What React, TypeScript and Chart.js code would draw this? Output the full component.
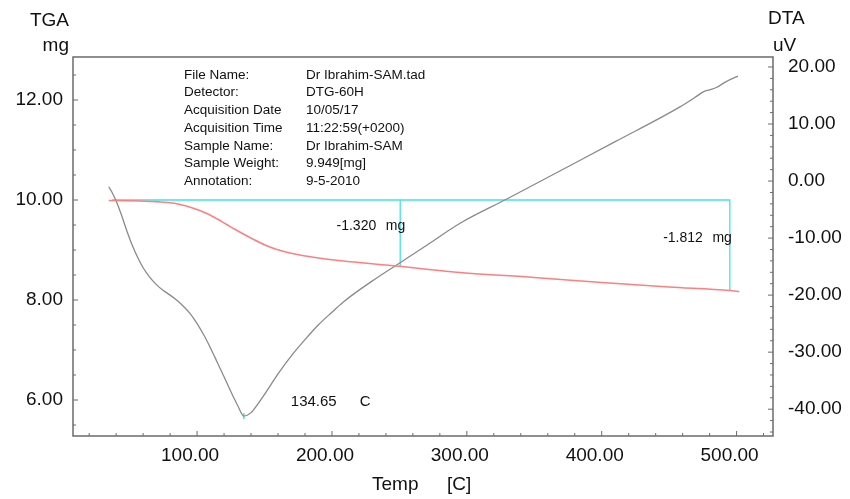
import React, { useEffect, useRef } from 'react';
import { Chart, registerables } from 'chart.js';

Chart.register(...registerables);

// ---- data ----
const tgaTemp = [34.5, 50, 65, 75, 85, 92, 100, 108, 115, 122, 128, 135, 142, 150, 158, 168, 178, 190, 200, 220, 250, 270, 295, 350, 400, 450, 495, 502];
const tgaMass = [9.99, 9.985, 9.97, 9.955, 9.925, 9.88, 9.81, 9.72, 9.62, 9.51, 9.415, 9.31, 9.21, 9.105, 9.02, 8.945, 8.89, 8.84, 8.805, 8.75, 8.675, 8.615, 8.55, 8.45, 8.35, 8.26, 8.19, 8.17];

const dtaTemp = [34.5, 37, 40, 44, 48, 52, 56, 60, 65, 70, 75, 80, 85, 90, 95, 100, 105, 110, 115, 120, 125, 130, 134.65, 140, 145, 150, 155, 160, 170, 180, 190, 200, 208, 215, 230, 250, 270, 295, 330, 370, 410, 458, 470, 475, 480, 485, 492, 501];
const dtaSignal = [-1.0, -2.0, -3.5, -6.0, -8.8, -11.3, -13.4, -15.2, -16.9, -18.2, -19.2, -20.0, -20.9, -22.0, -23.3, -25.0, -27.0, -29.3, -31.8, -34.3, -36.9, -39.3, -41.2, -40.6, -39.1, -37.4, -35.6, -33.8, -30.6, -27.8, -25.2, -23.0, -21.3, -20.0, -17.5, -14.4, -11.3, -7.4, -3.1, 1.9, 6.9, 13.0, 14.8, 15.6, 16.0, 16.4, 17.4, 18.4];

const baselineMass = 10.0;
const baselineStart = 37;
const stepTemps = [250.6, 495];
const stepMass = [8.68, 8.188];
const stepLabels = ['-1.320', '-1.812'];
const peakTemp = 134.65;
const peakSignal = -41.2;

const xTicks = [100, 200, 300, 400, 500];
const tgaTicks = [6, 8, 10, 12];
const dtaTicks = [-40, -30, -20, -10, 0, 10, 20];

const infoLabels = ['File Name:', 'Detector:', 'Acquisition Date', 'Acquisition Time', 'Sample Name:', 'Sample Weight:', 'Annotation:'];
const infoValues = ['Dr Ibrahim-SAM.tad', 'DTG-60H', '10/05/17', '11:22:59(+0200)', 'Dr Ibrahim-SAM', '9.949[mg]', '9-5-2010'];

const FONT = '"Liberation Sans", Arial, Helvetica, sans-serif';
const CYAN = '#3fe3ee';
const RED = '#ff7f80';
const GRAY = '#8a8a8a';
const FRAME = '#6b6b6b';

const decorPlugin = {
  id: 'decor',
  afterDraw(chart: any) {
    const ctx = chart.ctx;
    const { left, right, top, bottom } = chart.chartArea;
    const xs = chart.scales.x;
    const ys = chart.scales.y;
    const y2 = chart.scales.y2;
    ctx.save();
    // frame
    ctx.strokeStyle = FRAME;
    ctx.lineWidth = 1.5;
    ctx.strokeRect(left, top, right - left, bottom - top);
    // ticks
    ctx.lineWidth = 1;
    ctx.beginPath();
    for (let v = 20; v <= 520; v += 20) {
      const px = xs.getPixelForValue(v);
      const len = v % 100 === 0 ? 5 : 3;
      ctx.moveTo(px, bottom);
      ctx.lineTo(px, bottom - len);
    }
    for (let v = 5.5; v <= 12.5; v += 0.5) {
      const py = ys.getPixelForValue(v);
      const len = Math.abs(v % 2) < 1e-6 ? 5 : 3;
      ctx.moveTo(left, py);
      ctx.lineTo(left + len, py);
    }
    for (let v = -44; v <= 20; v += 2) {
      const py = y2.getPixelForValue(v);
      const len = v % 10 === 0 ? 5 : 3;
      ctx.moveTo(right, py);
      ctx.lineTo(right - len, py);
    }
    ctx.stroke();

    ctx.fillStyle = '#111';
    ctx.textBaseline = 'middle';
    // axis titles
    ctx.font = `19px ${FONT}`;
    ctx.textAlign = 'right';
    ctx.fillText('TGA', 69, 21);
    ctx.fillText('mg', 69, 46);
    ctx.textAlign = 'left';
    ctx.fillText('DTA', 768, 19);
    ctx.fillText('uV', 773, 46);
    ctx.fillText('Temp', 372, 485);
    ctx.fillText('[C]', 447, 485);

    // info block
    ctx.font = `13.5px ${FONT}`;
    infoLabels.forEach((l, i) => {
      const y = 75 + i * 17.7;
      ctx.fillText(l, 184, y);
      ctx.fillText(infoValues[i], 306, y);
    });

    // step annotations
    ctx.font = `14px ${FONT}`;
    const s1 = xs.getPixelForValue(stepTemps[0]);
    const s2 = xs.getPixelForValue(stepTemps[1]);
    ctx.textAlign = 'right';
    ctx.fillText(stepLabels[0], s1 - 24, ys.getPixelForValue(9.48));
    ctx.fillText('mg', s1 + 5, ys.getPixelForValue(9.48));
    ctx.fillText(stepLabels[1], s2 - 27, ys.getPixelForValue(9.24));
    ctx.fillText('mg', s2 + 2, ys.getPixelForValue(9.24));

    // peak annotation
    ctx.font = `15px ${FONT}`;
    ctx.textAlign = 'left';
    const pk = xs.getPixelForValue(peakTemp);
    const py = y2.getPixelForValue(-38.7);
    ctx.fillText(peakTemp.toFixed(2), pk + 47, py);
    ctx.fillText('C', pk + 116, py);
    ctx.restore();
  },
};

export default function App() {
  const ref = useRef<HTMLCanvasElement | null>(null);
  useEffect(() => {
    if (!ref.current) return;
    const chart = new Chart(ref.current, {
      type: 'line',
      data: {
        datasets: [
          {
            data: tgaTemp.map((t, i) => ({ x: t, y: tgaMass[i] })),
            yAxisID: 'y',
            borderColor: RED,
            borderWidth: 1.5,
            pointRadius: 0,
            cubicInterpolationMode: 'monotone',
          },
          {
            data: dtaTemp.map((t, i) => ({ x: t, y: dtaSignal[i] })),
            yAxisID: 'y2',
            borderColor: GRAY,
            borderWidth: 1.3,
            pointRadius: 0,
            cubicInterpolationMode: 'monotone',
          },
          {
            data: [
              { x: baselineStart, y: baselineMass },
              { x: stepTemps[1], y: baselineMass },
              { x: stepTemps[1], y: stepMass[1] },
            ],
            yAxisID: 'y',
            borderColor: CYAN,
            borderWidth: 1.3,
            pointRadius: 0,
          },
          {
            data: [
              { x: stepTemps[0], y: baselineMass },
              { x: stepTemps[0], y: stepMass[0] },
            ],
            yAxisID: 'y',
            borderColor: CYAN,
            borderWidth: 1.3,
            pointRadius: 0,
          },
          {
            data: [{ x: peakTemp, y: peakSignal }],
            yAxisID: 'y2',
            showLine: false,
            pointStyle: 'line',
            rotation: 90,
            pointRadius: 3,
            borderColor: CYAN,
            borderWidth: 1.5,
          },
        ] as any,
      },
      options: {
        responsive: false,
        animation: false,
        layout: { padding: { top: 57, left: 0, right: 0, bottom: 0 } },
        plugins: { legend: { display: false }, tooltip: { enabled: false } },
        scales: {
          x: {
            type: 'linear',
            min: 8,
            max: 527,
            grid: { display: false, drawTicks: false },
            border: { display: false },
            ticks: {
              font: { size: 19, family: FONT },
              color: '#111',
              padding: 8,
              labelOffset: -7,
              maxRotation: 0,
              callback: (v: any) => Number(v).toFixed(2),
            },
            afterBuildTicks: (s: any) => {
              s.ticks = xTicks.map((v) => ({ value: v }));
            },
            afterFit: (s: any) => {
              s.height = 63;
            },
          },
          y: {
            type: 'linear',
            position: 'left',
            min: 5.28,
            max: 12.86,
            grid: { display: false, drawTicks: false },
            border: { display: false },
            ticks: {
              font: { size: 19, family: FONT },
              color: '#111',
              padding: 10,
              callback: (v: any) => Number(v).toFixed(2),
            },
            afterBuildTicks: (s: any) => {
              s.ticks = tgaTicks.map((v) => ({ value: v }));
            },
            afterFit: (s: any) => {
              s.width = 73;
            },
          },
          y2: {
            type: 'linear',
            position: 'right',
            min: -44.7,
            max: 21.75,
            grid: { display: false, drawTicks: false },
            border: { display: false },
            ticks: {
              font: { size: 19, family: FONT },
              color: '#111',
              padding: 15,
              callback: (v: any) => Number(v).toFixed(2),
            },
            afterBuildTicks: (s: any) => {
              s.ticks = dtaTicks.map((v) => ({ value: v }));
            },
            afterFit: (s: any) => {
              s.width = 77;
            },
          },
        },
      } as any,
      plugins: [decorPlugin],
    });
    return () => chart.destroy();
  }, []);
  return (
    <div style={{ position: 'fixed', left: 0, top: 0, width: 850, height: 499, background: '#fff' }}>
      <canvas ref={ref} width={850} height={499} style={{ display: 'block' }} />
    </div>
  );
}
